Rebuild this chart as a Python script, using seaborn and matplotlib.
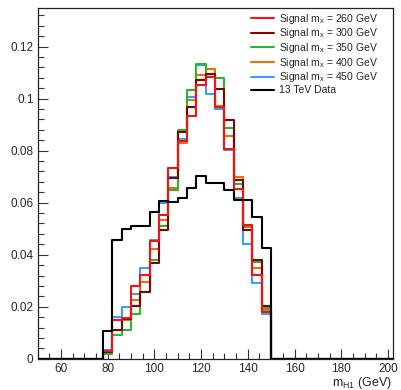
import numpy as np
import pandas as pd
import matplotlib
matplotlib.use("Agg")
import matplotlib.pyplot as plt
import seaborn as sns
from matplotlib.lines import Line2D
from matplotlib.ticker import MultipleLocator, FuncFormatter

# ---------------- data (bin centres of 4 GeV bins, normalised yields) ----------------
bin_centers = [80, 84, 88, 92, 96, 100, 104, 108, 112, 116, 120, 124, 128, 132, 136, 140, 144, 148]

sig_260 = [0.0030, 0.0150, 0.0157, 0.0280, 0.0321, 0.0452, 0.0553, 0.0733, 0.0838, 0.0934,
           0.1052, 0.1082, 0.0968, 0.0808, 0.0652, 0.0516, 0.0321, 0.0178]
sig_300 = [0.0028, 0.0110, 0.0153, 0.0202, 0.0257, 0.0370, 0.0495, 0.0695, 0.0870, 0.0966,
           0.1071, 0.1094, 0.1035, 0.0916, 0.0687, 0.0494, 0.0378, 0.0204]
sig_350 = [0.0018, 0.0090, 0.0112, 0.0174, 0.0257, 0.0379, 0.0510, 0.0650, 0.0879, 0.1031,
           0.1133, 0.1095, 0.1080, 0.0885, 0.0670, 0.0510, 0.0372, 0.0195]
sig_400 = [0.0024, 0.0148, 0.0150, 0.0225, 0.0295, 0.0421, 0.0535, 0.0655, 0.0828, 0.0994,
           0.1090, 0.1112, 0.0970, 0.0857, 0.0699, 0.0505, 0.0347, 0.0188]
sig_450 = [0.0035, 0.0162, 0.0200, 0.0248, 0.0347, 0.0456, 0.0597, 0.0697, 0.0844, 0.1007,
           0.1129, 0.1016, 0.0958, 0.0803, 0.0618, 0.0443, 0.0292, 0.0171]
data_13tev = [0.0106, 0.0456, 0.0498, 0.0511, 0.0511, 0.0565, 0.0607, 0.0604, 0.0616, 0.0655,
              0.0703, 0.0677, 0.0674, 0.0648, 0.0612, 0.0612, 0.0543, 0.0424]

labels = ["Signal m$_\\mathrm{x}$ = 260 GeV",
          "Signal m$_\\mathrm{x}$ = 300 GeV",
          "Signal m$_\\mathrm{x}$ = 350 GeV",
          "Signal m$_\\mathrm{x}$ = 400 GeV",
          "Signal m$_\\mathrm{x}$ = 450 GeV",
          "13 TeV Data"]
colors = ["#f01414", "#7d0505", "#2db52d", "#e8720c", "#3a9cff", "#000000"]
series_values = [sig_260, sig_300, sig_350, sig_400, sig_450, data_13tev]

x_label = "m$_\\mathrm{H1}$ (GeV)"

# ---------------- style ----------------
sns.set_style("white")
plt.rcParams["font.family"] = ["Liberation Sans", "DejaVu Sans"]
plt.rcParams["mathtext.fontset"] = "custom"
plt.rcParams["mathtext.rm"] = "Liberation Sans"
plt.rcParams["mathtext.it"] = "Liberation Sans:italic"

rows = []
for lab, vals in zip(labels, series_values):
    for c, v in zip(bin_centers, vals):
        rows.append({"mass": c, "value": v, "series": lab})
df = pd.DataFrame(rows)

fig = plt.figure(figsize=(4.01, 3.90), dpi=100)
ax = fig.add_axes([0.094, 0.080, 0.885, 0.8995])

edges = [float(e) for e in np.arange(50, 203, 4)]
# hue levels are drawn in reverse order: data on top, then 260, ... 450 at the bottom
hue_order = [labels[5], labels[0], labels[1], labels[2], labels[3], labels[4]]
palette = dict(zip(labels, colors))
sns.histplot(data=df, x="mass", weights="value", hue="series", hue_order=hue_order,
             palette=palette, bins=edges, element="step", fill=False,
             linewidth=1.5, legend=False, ax=ax)

ax.set_xlim(50, 202)
ax.set_ylim(0, 0.1348)
ax.set_xlabel("")
ax.set_ylabel("")

ax.xaxis.set_major_locator(MultipleLocator(20))
ax.xaxis.set_minor_locator(MultipleLocator(5))
ax.yaxis.set_major_locator(MultipleLocator(0.02))
ax.yaxis.set_minor_locator(MultipleLocator(0.004))
ax.yaxis.set_major_formatter(FuncFormatter(lambda v, p: "0" if abs(v) < 1e-9 else f"{v:g}"))
ax.tick_params(axis="both", which="major", direction="in", length=7, width=0.8,
               labelsize=8.5, pad=3, bottom=True, left=True, top=False, right=False,
               color="#333333")
ax.tick_params(axis="both", which="minor", direction="in", length=4, width=0.8,
               bottom=True, left=True, top=False, right=False, color="#333333")
for s in ax.spines.values():
    s.set_color("#222222")
    s.set_linewidth(0.9)

ax.text(1.0, -0.068, x_label, transform=ax.transAxes, ha="right", va="center", fontsize=9)

handles = [Line2D([0], [0], color=c, lw=1.5) for c in colors]
leg = ax.legend(handles, labels, loc="upper left", bbox_to_anchor=(0.60, 0.99),
                frameon=False, fontsize=7.5, handlelength=2.2, handletextpad=0.5,
                labelspacing=0.07, borderpad=0, borderaxespad=0)

fig.savefig("out.png", dpi=100)
